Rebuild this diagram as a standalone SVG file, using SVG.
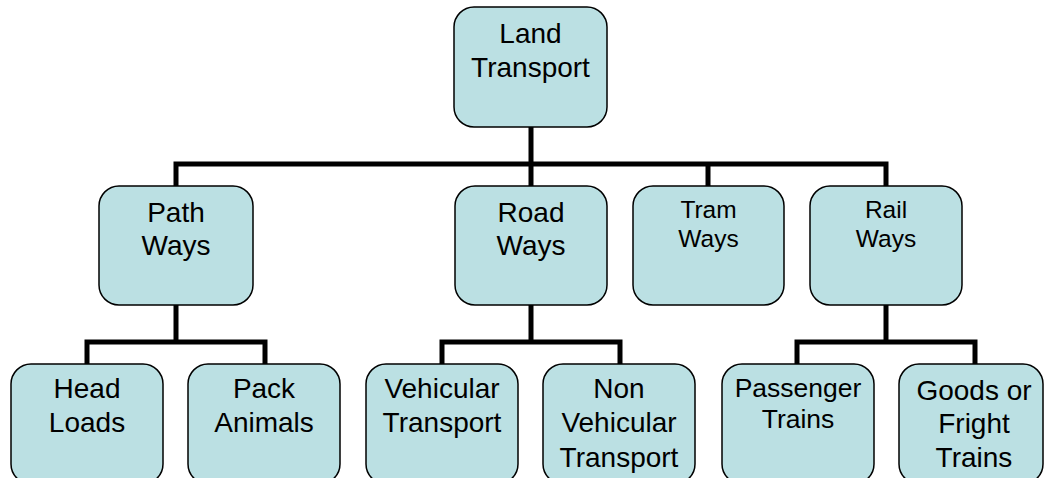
<svg xmlns="http://www.w3.org/2000/svg" width="1045" height="478" viewBox="0 0 1045 478">
<style>
.box{fill:#BBE0E3;stroke:#000;stroke-width:1.5}
.t{font-family:"Liberation Sans",Arial,sans-serif;font-size:28px;fill:#000;text-anchor:middle}
.s{font-size:24.5px}
.p{font-size:26.5px}
.c{fill:none;stroke:#000;stroke-width:5;stroke-linecap:square;stroke-linejoin:miter}
</style>
<rect width="1045" height="478" fill="#fff"/>
<g id="connectors">
<path class="c" d="M531,127 V186 M176,164 H886 M176,164 V186 M708,164 V186 M886,164 V186"/>
<path class="c" d="M176,305 V342 M87,364 V342 H265 V364"/>
<path class="c" d="M531,305 V342 M442,364 V342 H620 V364"/>
<path class="c" d="M886,305 V342 M797,364 V342 H975 V364"/>
</g>
<g id="land"><rect class="box" x="454" y="7" width="153" height="120" rx="20"/><text class="t" x="530.5" y="43">Land</text><text class="t" x="530.5" y="77">Transport</text></g>
<g id="path"><rect class="box" x="99" y="186" width="154" height="119" rx="20"/><text class="t" x="176" y="222">Path</text><text class="t" x="176" y="255">Ways</text></g>
<g id="road"><rect class="box" x="455" y="186" width="152" height="119" rx="20"/><text class="t" x="531" y="222">Road</text><text class="t" x="531" y="255">Ways</text></g>
<g id="tram"><rect class="box" x="633" y="186" width="151" height="119" rx="20"/><text class="t s" x="708.5" y="218">Tram</text><text class="t s" x="708.5" y="247">Ways</text></g>
<g id="rail"><rect class="box" x="810" y="186" width="152" height="119" rx="20"/><text class="t s" x="886" y="218">Rail</text><text class="t s" x="886" y="247">Ways</text></g>
<g id="head"><rect class="box" x="11" y="364" width="152" height="120" rx="20"/><text class="t" x="87" y="398">Head</text><text class="t" x="87" y="432">Loads</text></g>
<g id="pack"><rect class="box" x="188" y="364" width="152" height="120" rx="20"/><text class="t" x="264" y="398">Pack</text><text class="t" x="264" y="432">Animals</text></g>
<g id="vehicular"><rect class="box" x="366" y="364" width="152" height="120" rx="20"/><text class="t" x="442" y="398">Vehicular</text><text class="t" x="442" y="432">Transport</text></g>
<g id="nonvehicular"><rect class="box" x="543" y="364" width="152" height="120" rx="20"/><text class="t" x="619" y="398">Non</text><text class="t" x="619" y="432">Vehicular</text><text class="t" x="619" y="467">Transport</text></g>
<g id="passenger"><rect class="box" x="722" y="364" width="152" height="120" rx="20"/><text class="t p" x="798" y="397">Passenger</text><text class="t p" x="798" y="428">Trains</text></g>
<g id="goods"><rect class="box" x="899" y="364" width="144" height="120" rx="20"/><text class="t" x="974" y="400">Goods or</text><text class="t" x="974" y="433">Fright</text><text class="t" x="974" y="467">Trains</text></g>
</svg>
